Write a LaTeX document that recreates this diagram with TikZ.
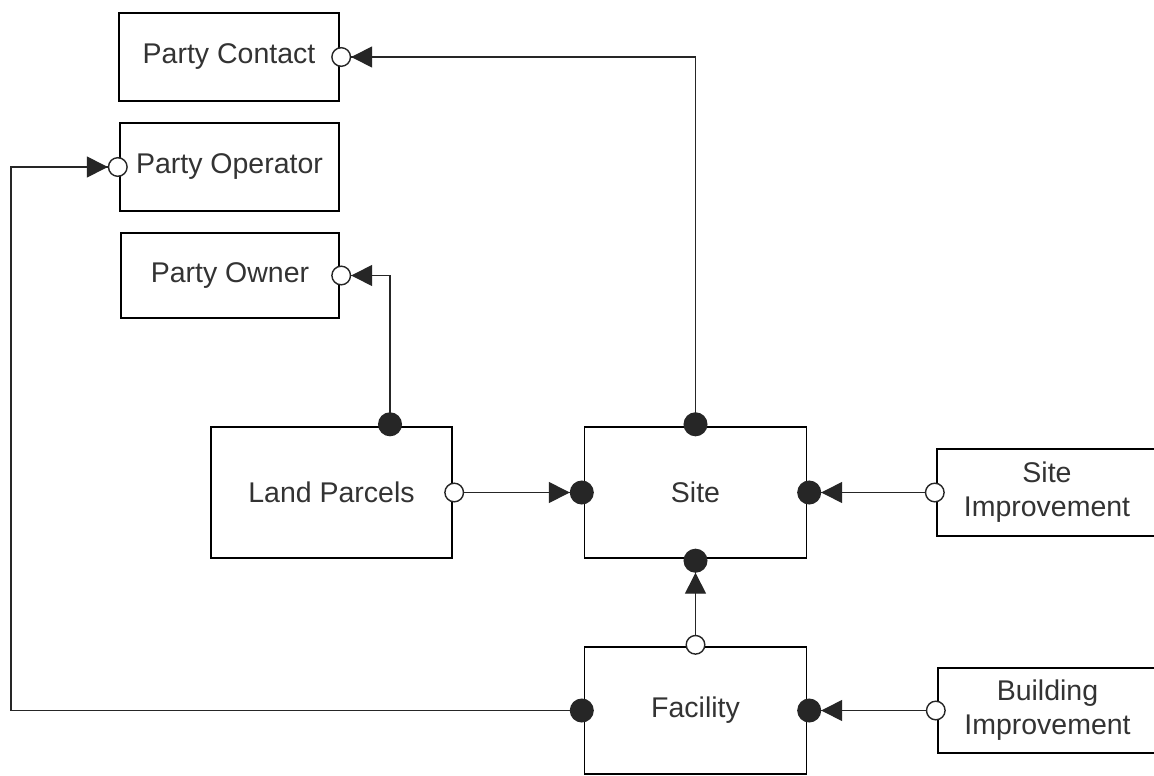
\documentclass[tikz,border=0pt]{standalone}
\usepackage{fontspec}
\setmainfont{Liberation Sans}
\usetikzlibrary{arrows.meta,calc}
\begin{document}
\begin{tikzpicture}[x=1pt, y=-1pt,
  entity/.style={draw, line width=1.4pt, align=center, inner sep=0pt,
                 text=black!80, font=\fontsize{28.5}{34}\selectfont},
  link/.style={line width=1.4pt, black!85},
  % filled dot at the start, arrowhead and open circle at the end
  fulltoopen/.style={arrows={Circle[length=24pt]-{Triangle[length=21pt, width=21pt, sep=0pt] Circle[length=20pt, fill=white]}},
                     shorten <=-10pt, shorten >=-8.5pt},
  % open circle at the start, arrowhead and filled dot at the end
  opentofull/.style={arrows={Circle[length=20pt, fill=white]-{Triangle[length=21pt, width=21pt, sep=0pt] Circle[length=24pt]}},
                     shorten <=-8.5pt, shorten >=-10pt},
]
\useasboundingbox (0,0) rectangle (1154,776);
\fill[white] (0,0) rectangle (1154,776);

% entities
\node[entity, minimum width=220, minimum height=88] (contact)  at (229,57)      {Party Contact};
\node[entity, minimum width=219, minimum height=88] (operator) at (229.5,167)   {Party Operator};
\node[entity, minimum width=218, minimum height=85] (owner)    at (230,275.5)   {Party Owner};
\node[entity, minimum width=241, minimum height=131] (parcels) at (331.5,492.5) {Land Parcels};
\node[entity, minimum width=222, minimum height=131] (site)    at (695.5,492.5) {Site};
\node[entity, minimum width=220, minimum height=87] (siteimp)  at (1047,492.5)  {Site\\Improvement};
\node[entity, minimum width=222, minimum height=127] (facility) at (695.5,710.5) {Facility};
\node[entity, minimum width=219, minimum height=85] (bldimp)   at (1047.5,710.5) {Building\\Improvement};

\coordinate (westturn) at (11,710.5);

% relationships
\draw[link, fulltoopen] (site.north) |- (contact.east);
\draw[link, fulltoopen] ([xshift=58.5pt]parcels.north) |- (owner.east);
\draw[link, fulltoopen] (facility.west) -- (westturn) |- (operator.west);
\draw[link, opentofull] (parcels.east) -- (site.west);
\draw[link, opentofull] (siteimp.west) -- (site.east);
\draw[link, opentofull] (facility.north) -- (site.south);
\draw[link, opentofull] (bldimp.west) -- (facility.east);
\end{tikzpicture}
\end{document}
